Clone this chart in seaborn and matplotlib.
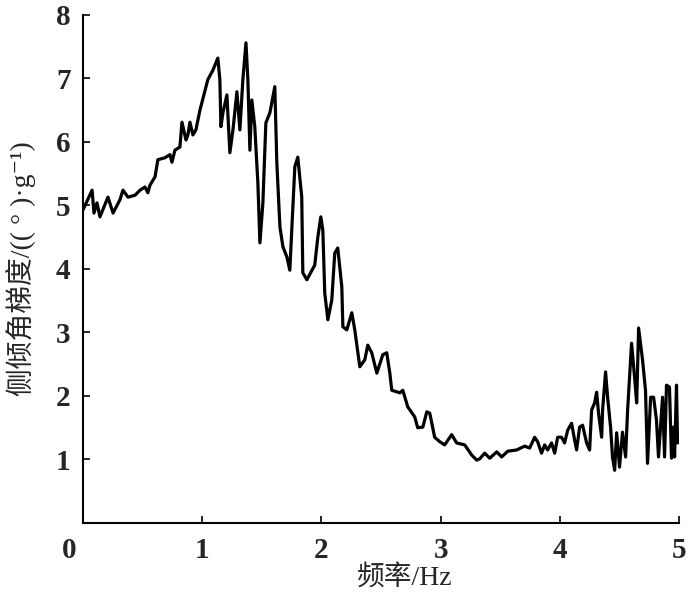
import numpy as np
import pandas as pd
import matplotlib
matplotlib.use("Agg")
import matplotlib.pyplot as plt
import matplotlib.transforms as mtransforms
import seaborn as sns

# frequency (Hz) and roll angle gradient
freq = [0.000, 0.076, 0.092, 0.117, 0.142, 0.209, 0.252, 0.310, 0.335, 0.377,
        0.436, 0.478, 0.520, 0.544, 0.562, 0.604, 0.628, 0.687, 0.729, 0.746,
        0.771, 0.813, 0.830, 0.864, 0.880, 0.897, 0.922, 0.947, 0.981, 1.047,
        1.090, 1.131, 1.148, 1.157, 1.174, 1.207, 1.232, 1.258, 1.291, 1.316,
        1.341, 1.367, 1.383, 1.400, 1.416, 1.441, 1.467, 1.484, 1.509, 1.534,
        1.568, 1.609, 1.626, 1.652, 1.677, 1.710, 1.735, 1.777, 1.802, 1.835,
        1.844, 1.878, 1.944, 1.970, 1.995, 2.012, 2.028, 2.054, 2.087, 2.112,
        2.137, 2.171, 2.180, 2.213, 2.255, 2.280, 2.322, 2.364, 2.389, 2.422,
        2.465, 2.515, 2.548, 2.574, 2.590, 2.658, 2.683, 2.724, 2.783, 2.808,
        2.851, 2.884, 2.909, 2.950, 2.993, 3.034, 3.093, 3.135, 3.202, 3.261,
        3.303, 3.328, 3.370, 3.412, 3.471, 3.512, 3.563, 3.638, 3.705, 3.747,
        3.789, 3.814, 3.847, 3.873, 3.898, 3.931, 3.957, 3.982, 4.015, 4.040,
        4.066, 4.099, 4.124, 4.141, 4.166, 4.191, 4.225, 4.250, 4.267, 4.292,
        4.309, 4.325, 4.351, 4.359, 4.384, 4.401, 4.426, 4.442, 4.460, 4.477,
        4.501, 4.526, 4.552, 4.569, 4.602, 4.627, 4.645, 4.661, 4.694, 4.719,
        4.736, 4.762, 4.787, 4.811, 4.828, 4.862, 4.879, 4.895, 4.920, 4.937,
        4.955, 4.963, 4.979, 4.988]

gradient = [4.93, 5.24, 4.88, 5.04, 4.82, 5.13, 4.88, 5.09, 5.24, 5.13,
            5.16, 5.24, 5.29, 5.20, 5.32, 5.45, 5.72, 5.75, 5.80, 5.68,
            5.87, 5.92, 6.31, 6.03, 6.11, 6.31, 6.11, 6.19, 6.50, 6.98,
            7.13, 7.32, 6.98, 6.24, 6.46, 6.74, 5.83, 6.19, 6.79, 6.19,
            6.98, 7.56, 6.98, 5.87, 6.66, 6.24, 5.35, 4.41, 5.04, 6.30,
            6.46, 6.87, 5.67, 4.66, 4.35, 4.19, 3.98, 5.61, 5.76, 5.13,
            3.94, 3.83, 4.06, 4.50, 4.82, 4.61, 3.62, 3.20, 3.51, 4.25,
            4.33, 3.72, 3.09, 3.04, 3.31, 3.04, 2.46, 2.57, 2.80, 2.68,
            2.36, 2.65, 2.68, 2.36, 2.09, 2.05, 2.09, 1.83, 1.67, 1.50,
            1.51, 1.75, 1.73, 1.35, 1.28, 1.23, 1.39, 1.26, 1.23, 1.07,
            0.99, 1.01, 1.10, 1.02, 1.12, 1.04, 1.13, 1.15, 1.21, 1.18,
            1.35, 1.28, 1.10, 1.23, 1.15, 1.26, 1.10, 1.35, 1.35, 1.26,
            1.46, 1.57, 1.31, 1.15, 1.51, 1.54, 1.26, 1.15, 1.78, 1.89,
            2.06, 1.73, 1.35, 1.78, 2.38, 1.98, 1.51, 1.04, 0.83, 1.42,
            0.88, 1.43, 1.04, 1.78, 2.83, 2.30, 1.89, 3.07, 2.57, 2.09,
            0.94, 1.98, 1.98, 1.62, 1.04, 1.98, 1.04, 2.17, 2.14, 1.02,
            1.51, 1.04, 2.17, 1.26]

x_ticks = [0, 1, 2, 3, 4, 5]
y_ticks = [1, 2, 3, 4, 5, 6, 7, 8]

df = pd.DataFrame({"freq": freq, "gradient": gradient})

sns.set_style("ticks")
plt.rcParams['font.family'] = ['Liberation Serif', 'Noto Sans CJK SC', 'DejaVu Sans']

fig = plt.figure(figsize=(7, 5.95), dpi=100)
ax = fig.add_axes([0.1186, 0.121, 0.8514, 0.854])

sns.lineplot(data=df, x="freq", y="gradient", color="black", linewidth=2.3, ax=ax)

ax.set_xlim(0, 5)
ax.set_ylim(0, 8)
ax.set_xticks(x_ticks)
ax.set_yticks(y_ticks)
ax.tick_params(direction="in", length=5, width=1.4, labelsize=21, pad=9)
ax.tick_params(axis="x", pad=10)
for lab in ax.get_xticklabels() + ax.get_yticklabels():
    lab.set_fontweight("bold")
for s in ["left", "bottom"]:
    ax.spines[s].set_linewidth(1.5)
    ax.spines[s].set_color("black")
sns.despine(ax=ax)

# the corner "0" sits to the left of the spine
lab0 = ax.get_xticklabels()[0]
lab0.set_transform(lab0.get_transform() + mtransforms.ScaledTranslation(-10 / 72, 0, fig.dpi_scale_trans))

ax.set_xlabel("频率/Hz", fontsize=20)
ax.set_ylabel("侧倾角梯度/(( ° )·g⁻¹)", fontsize=20)
ax.xaxis.set_label_coords(0.539, -0.083)
ax.yaxis.set_label_coords(-0.079, 0.5)

fig.savefig("out.png", dpi=100)
